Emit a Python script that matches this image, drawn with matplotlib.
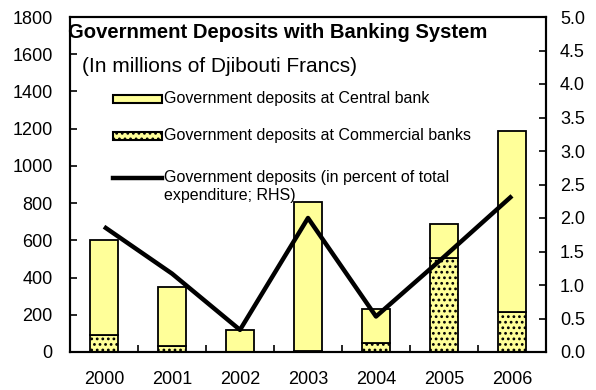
import numpy as np
import matplotlib
matplotlib.use("Agg")
import matplotlib.pyplot as plt
from matplotlib.patches import Rectangle
from matplotlib.lines import Line2D

plt.rcParams['font.family'] = ['Liberation Sans', 'DejaVu Sans']
plt.rcParams['hatch.linewidth'] = 1.2

years = ['2000', '2001', '2002', '2003', '2004', '2005', '2006']
# deposits in millions of DF
total_deposits = [600, 350, 120, 805, 230, 690, 1190]
commercial = [90, 30, 2, 5, 50, 505, 215]
central = [t - c for t, c in zip(total_deposits, commercial)]
# percent of total expenditure (right axis)
pct_expenditure = [1.87, 1.17, 0.33, 2.0, 0.53, 1.42, 2.33]

legend_labels = [
    'Government deposits at Central bank',
    'Government deposits at Commercial banks',
    'Government deposits (in percent of total\nexpenditure; RHS)',
]

yellow = '#FFFF99'
W, H = 596, 390

fig = plt.figure(figsize=(W / 100, H / 100), dpi=100)
ax = fig.add_axes([70/W, 38/H, 476/W, 335/H])
ax2 = ax.twinx()

x = np.arange(len(years))
w = 0.4
ax.bar(x, commercial, w, color=yellow, edgecolor='black', linewidth=1.3,
       hatch='...', zorder=2)
ax.bar(x, central, w, bottom=commercial, color=yellow, edgecolor='black',
       linewidth=1.3, zorder=2)
ax2.plot(x, pct_expenditure, color='black', lw=3.2, solid_capstyle='butt',
         zorder=3)

ax.set_xlim(-0.5, len(years) - 0.5)
ax.set_ylim(0, 1800)
ax.set_yticks(np.arange(0, 1801, 200))
ax2.set_ylim(0, 5)
ax2.set_yticks(np.arange(0, 5.01, 0.5))
ax2.set_yticklabels(['%.1f' % v for v in np.arange(0, 5.01, 0.5)])

ax.set_xticks(x)
ax.set_xticklabels(years)
ax.set_xticks(np.arange(-0.5, len(years)), minor=True)
ax.tick_params(axis='x', which='major', length=0, pad=14, labelsize=13)
ax.tick_params(axis='x', which='minor', direction='in', length=5, width=1.2)
ax.tick_params(axis='y', direction='in', length=5, width=1.2, pad=12.5,
               labelsize=13)
ax2.tick_params(axis='y', direction='in', length=5, width=1.2, pad=10,
                labelsize=13)

for a in (ax, ax2):
    for s in a.spines.values():
        s.set_linewidth(1.5)

fig.text(68/W, 1 - 33/H, 'Government Deposits with Banking System',
         fontsize=14.6, fontweight='bold', va='center', ha='left')
fig.text(82/W, 1 - 66/H, '(In millions of Djibouti Francs)',
         fontsize=15, va='center', ha='left')

# hand-placed legend (pixel positions from the top-left corner)
def px(xp, yp):
    return xp / W, 1 - yp / H

rows = [99, 136, 178]
hx0, hx1 = 113, 162
fig.add_artist(Rectangle(px(hx0, rows[0] + 4), (hx1 - hx0) / W, 8 / H,
                         facecolor=yellow, edgecolor='black', lw=1.5,
                         transform=fig.transFigure))
fig.add_artist(Rectangle(px(hx0, rows[1] + 4), (hx1 - hx0) / W, 8 / H,
                         facecolor=yellow, edgecolor='black', lw=1.5,
                         hatch='...', transform=fig.transFigure))
fig.add_artist(Line2D([hx0 / W, hx1 / W], [1 - rows[2] / H] * 2, color='black',
                      lw=3.2, transform=fig.transFigure))
for r, lab in zip(rows, legend_labels):
    fig.text(164 / W, 1 - (r - 8) / H, lab, fontsize=11.5, va='top',
             ha='left', linespacing=1.25)

fig.savefig('out.png', dpi=100)
